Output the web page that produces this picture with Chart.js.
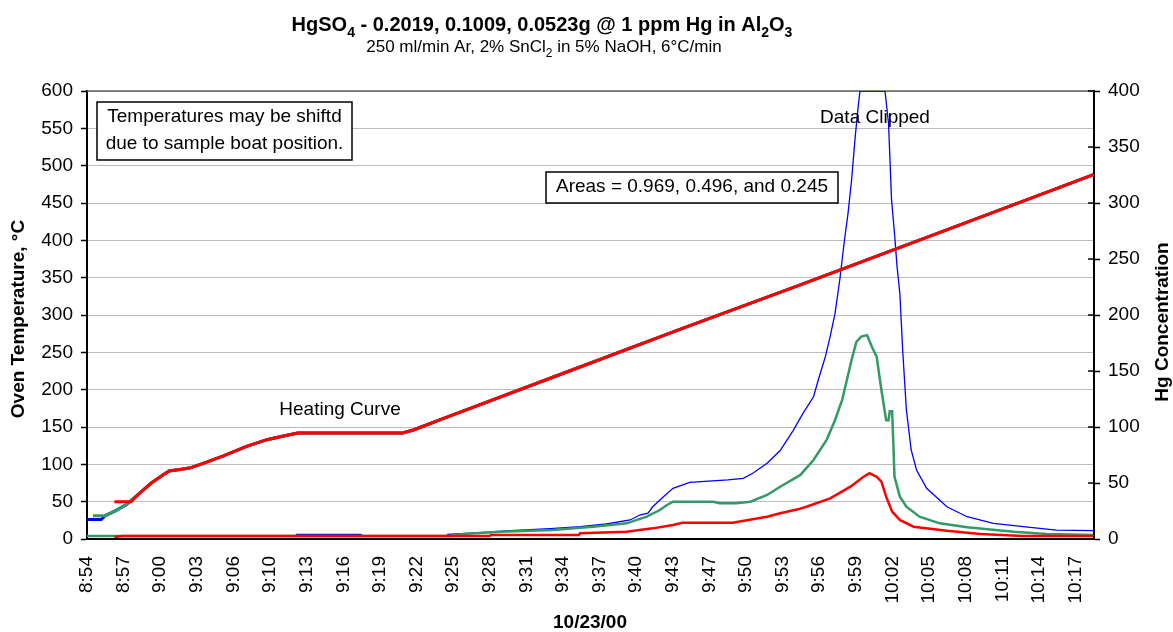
<!DOCTYPE html>
<html>
<head>
<meta charset="utf-8">
<script src="https://cdn.jsdelivr.net/npm/chart.js@4.4.1/dist/chart.umd.min.js"></script>
<style>
  html, body { margin: 0; padding: 0; background: #fff; }
  #wrap { width: 1173px; height: 632px; }
</style>
</head>
<body>
<div id="wrap"><canvas id="ovenChart" width="1173" height="632"></canvas></div>
<script>
// time axis: minutes after 8:54, labels every ~3.07 min
const tickLabels = ['8:54', '8:57', '9:00', '9:03', '9:06', '9:10', '9:13', '9:16', '9:19', '9:22',
    '9:25', '9:28', '9:31', '9:34', '9:37', '9:40', '9:43', '9:47', '9:50', '9:53',
    '9:56', '9:59', '10:02', '10:05', '10:08', '10:11', '10:14', '10:17'];
const tickStep = 83 / 27;
const xMax = 84.55;

// oven temperature (°C), one trace per sample
const tempTimeBlue = [0, 1.2, 1.5, 2.3, 3.3, 4.4, 5.4, 6.4, 6.9, 7.8, 8.6, 9.7, 11.4, 13.4, 15.1, 16.5, 17.7, 26.5, 27.4, 30, 40, 50, 60, 70, 80, 84.5];
const tempBlue     = [26, 26, 31, 37, 46, 61, 75, 86, 91, 93, 95, 101, 111, 124, 133, 138, 142, 142, 146, 162, 222, 282, 341, 401, 461, 488];
const tempTimeGreen = [0.5, 1.5, 2.3, 3.3, 4.4, 5.4, 6.4, 6.9, 7.8, 8.6, 9.7, 11.4, 13.4, 15.1, 16.5, 17.7, 26.5, 27.4, 30, 40, 50, 60, 70, 80, 84.5];
const tempGreen     = [31, 31, 37, 46, 61, 75, 86, 91, 93, 95, 101, 111, 124, 133, 138, 142, 142, 146, 162, 222, 282, 341, 401, 461, 488];
const tempTimeRed = [2.3, 3.7, 4.4, 5.4, 6.4, 6.9, 7.8, 8.6, 9.7, 11.4, 13.4, 15.1, 16.5, 17.7, 26.5, 27.4, 30, 40, 50, 60, 70, 80, 84.5];
const tempRed     = [50, 50, 61, 75, 86, 91, 93, 95, 101, 111, 124, 133, 138, 142, 142, 146, 162, 222, 282, 341, 401, 461, 488];

// Hg concentration, one trace per sample
const hgTimeBlue = [0, 17.5, 17.6, 23.0, 23.1, 30.2, 30.3, 33.0, 35.5, 38.9, 41.4, 43.6, 45.6, 46.4, 47.1, 47.5, 48.4, 49.2, 50.6,
    53.8, 55.1, 55.9, 57.1, 58.2, 59.3, 60.1, 61.0, 61.4, 62.0, 62.4, 62.8, 63.2, 63.6, 63.9, 64.2, 64.5, 64.75, 64.9,
    67.0, 67.3, 67.55, 67.8, 68.0, 68.25, 68.5, 68.8, 69.2, 69.65, 70.5, 72.2, 73.9, 76.1, 79.2, 81.4, 84.5];
const hgBlue = [2.7, 2.7, 4.2, 4.2, 2.7, 2.7, 4.2, 5.7, 7.4, 9.2, 11, 13.4, 17, 21.4, 23, 28.8, 37.8, 45.3, 50.6,
    52.7, 54.2, 58.7, 67.6, 79, 97, 112, 127, 142, 163, 181, 201, 231, 267, 291, 321, 359, 386, 400,
    400, 371, 303, 273, 245, 219, 166, 115, 79.5, 61.6, 45.3, 28.8, 19.9, 14, 10.4, 8, 7.4];
const hgTimeGreen = [0, 30.5, 31.6, 34.7, 39.1, 42.5, 45.3, 47.0, 48.1, 48.7, 49.2, 52.6, 53.1, 54.5, 55.7, 57.1, 58.2, 59.9,
    61.0, 62.1, 62.8, 63.4, 63.8, 64.2, 64.6, 65.0, 65.5, 65.9, 66.3, 66.7, 67.1, 67.3, 67.4, 67.6, 67.7, 67.8,
    68.25, 68.8, 69.9, 71.6, 73.9, 77.8, 80.6, 84.5];
const hgGreen = [2.7, 2.7, 4.5, 6.5, 8, 11, 14, 19.9, 25.9, 30.4, 33.3, 33.3, 31.9, 31.9, 33.3, 39.3, 46.7, 57.2,
    70.5, 88.4, 106, 124, 142, 160, 176, 180.7, 182, 171.7, 162.8, 133, 106, 106, 114, 114, 85.5, 55.6,
    37.8, 28.8, 19.9, 14, 10.4, 6.5, 4.5, 3.6];
const hgTimeRed = [2.3, 3.0, 33.8, 33.9, 41.3, 41.4, 45.3, 47.5, 49.2, 50.0, 54.2, 57.1, 58.2, 59.7, 60.4, 62.4, 64.1, 65.2,
    65.7, 66.3, 66.7, 67.1, 67.6, 68.25, 69.4, 72.2, 75.0, 78.6, 84.5];
const hgRed = [1.8, 2.7, 2.7, 3.6, 3.6, 5.1, 6.5, 9.5, 12.5, 14.6, 14.6, 19.9, 23, 26.5, 28.8, 36.3, 46.7, 55.6,
    58.7, 55.6, 51.2, 37.8, 24.4, 17, 11, 7.4, 4.5, 2.7, 2.7];

const FONT = 'Arial, "Liberation Sans", sans-serif';
const BLUE = '#0000ff', GREEN = '#339966', RED = '#ff0000';

function pts(xs, ys) {
    return xs.map((x, i) => ({ x: x, y: ys[i] }));
}

function line(label, xs, ys, color, width, axis, order) {
    return {
        label: label,
        data: pts(xs, ys),
        borderColor: color,
        backgroundColor: color,
        borderWidth: width,
        pointRadius: 0,
        tension: 0,
        fill: false,
        yAxisID: axis,
        order: order
    };
}

// draws a string made of normal and subscript pieces, centred on cx
function richText(ctx, parts, cx, y, size, bold) {
    const weight = bold ? 'bold ' : '';
    const subSize = Math.round(size * 0.68);
    let total = 0;
    parts.forEach(p => {
        ctx.font = weight + (p.sub ? subSize : size) + 'px ' + FONT;
        total += ctx.measureText(p.t).width;
    });
    let x = cx - total / 2;
    ctx.textAlign = 'left';
    parts.forEach(p => {
        ctx.font = weight + (p.sub ? subSize : size) + 'px ' + FONT;
        ctx.fillText(p.t, x, p.sub ? y + size * 0.3 : y);
        x += ctx.measureText(p.t).width;
    });
}

function boxedText(ctx, lines, x1, y1, x2, y2, baselines) {
    ctx.fillStyle = '#fff';
    ctx.fillRect(x1, y1, x2 - x1, y2 - y1);
    ctx.strokeStyle = '#000';
    ctx.lineWidth = 1.5;
    ctx.strokeRect(x1, y1, x2 - x1, y2 - y1);
    ctx.fillStyle = '#000';
    ctx.textAlign = 'center';
    ctx.font = '19px ' + FONT;
    lines.forEach((t, i) => ctx.fillText(t, (x1 + x2) / 2, baselines[i]));
}

const decor = {
    id: 'decor',
    beforeDatasetsDraw(chart) {
        const { ctx, chartArea: a } = chart;
        ctx.save();
        ctx.strokeStyle = '#606060';
        ctx.lineWidth = 1.5;
        ctx.beginPath();
        ctx.moveTo(a.left, a.top);
        ctx.lineTo(a.right, a.top);
        ctx.stroke();
        ctx.restore();
    },
    afterDraw(chart) {
        const { ctx, chartArea: a } = chart;
        ctx.save();
        ctx.fillStyle = '#000';
        ctx.textBaseline = 'alphabetic';

        // titles
        richText(ctx, [
            { t: 'HgSO' }, { t: '4', sub: true },
            { t: ' - 0.2019, 0.1009, 0.0523g @ 1 ppm Hg in Al' }, { t: '2', sub: true },
            { t: 'O' }, { t: '3', sub: true }
        ], 542, 31, 20, true);
        richText(ctx, [
            { t: '250 ml/min Ar, 2% SnCl' }, { t: '2', sub: true },
            { t: ' in 5% NaOH, 6°C/min' }
        ], 544, 52, 17, false);

        // inner half of the right axis tick marks
        const y2 = chart.scales.y2;
        ctx.strokeStyle = '#000';
        ctx.lineWidth = 1.5;
        y2.ticks.forEach(t => {
            const py = y2.getPixelForValue(t.value);
            ctx.beginPath();
            ctx.moveTo(a.right - 6, py);
            ctx.lineTo(a.right, py);
            ctx.stroke();
        });

        // axis titles
        ctx.font = 'bold 19px ' + FONT;
        ctx.textAlign = 'center';
        ctx.save();
        ctx.translate(24, 319);
        ctx.rotate(-Math.PI / 2);
        ctx.fillText('Oven Temperature, °C', 0, 0);
        ctx.restore();
        ctx.save();
        ctx.translate(1168, 322);
        ctx.rotate(-Math.PI / 2);
        ctx.fillText('Hg Concentration', 0, 0);
        ctx.restore();
        ctx.fillText('10/23/00', 590, 628);

        // notes
        boxedText(ctx, ['Temperatures may be shiftd', 'due to sample boat position.'],
            97, 102, 352, 160, [122, 149]);
        boxedText(ctx, ['Areas = 0.969, 0.496, and 0.245'], 546, 172, 838, 203, [192]);
        ctx.font = '19px ' + FONT;
        ctx.textAlign = 'center';
        ctx.fillText('Heating Curve', 340, 415);
        ctx.fillText('Data Clipped', 875, 123);
        ctx.restore();
    }
};

Chart.defaults.font.family = FONT;
Chart.defaults.color = '#000';

new Chart(document.getElementById('ovenChart'), {
    type: 'line',
    data: {
        datasets: [
            line('Temp 0.2019 g', tempTimeBlue, tempBlue, BLUE, 3, 'y', 2),
            line('Temp 0.1009 g', tempTimeGreen, tempGreen, GREEN, 3, 'y', 1),
            line('Temp 0.0523 g', tempTimeRed, tempRed, RED, 3, 'y', 0),
            line('Hg 0.2019 g', hgTimeBlue, hgBlue, BLUE, 1.3, 'y2', 5),
            line('Hg 0.1009 g', hgTimeGreen, hgGreen, GREEN, 2.5, 'y2', 4),
            line('Hg 0.0523 g', hgTimeRed, hgRed, RED, 2.5, 'y2', 3)
        ]
    },
    options: {
        responsive: false,
        animation: false,
        layout: { padding: { top: 91, left: 0, right: 0, bottom: 0 } },
        plugins: {
            legend: { display: false },
            title: { display: false },
            tooltip: { enabled: false }
        },
        scales: {
            x: {
                type: 'linear',
                min: 0,
                max: xMax,
                grid: { display: false },
                border: { display: true, color: '#000', width: 2 },
                afterBuildTicks: scale => {
                    scale.ticks = tickLabels.map((t, i) => ({ value: i * tickStep }));
                },
                afterFit: scale => { scale.height = 93; },
                ticks: {
                    autoSkip: false,
                    minRotation: 90,
                    maxRotation: 90,
                    padding: 9,
                    font: { size: 19 },
                    callback: (value, index) => tickLabels[index]
                }
            },
            y: {
                position: 'left',
                min: 0,
                max: 600,
                grid: { color: '#bcbcbc', lineWidth: 1, tickLength: 6, tickColor: '#000', tickWidth: 1.5 },
                border: { color: '#000', width: 2 },
                afterFit: scale => { scale.width = 87; },
                ticks: { stepSize: 50, padding: 8, font: { size: 19 } }
            },
            y2: {
                position: 'right',
                min: 0,
                max: 400,
                grid: { drawOnChartArea: false, tickLength: 6, tickColor: '#000', tickWidth: 1.5 },
                border: { color: '#000', width: 2 },
                afterFit: scale => { scale.width = 79; },
                ticks: { stepSize: 50, padding: 8, font: { size: 19 } }
            }
        }
    },
    plugins: [decor]
});
</script>
</body>
</html>
